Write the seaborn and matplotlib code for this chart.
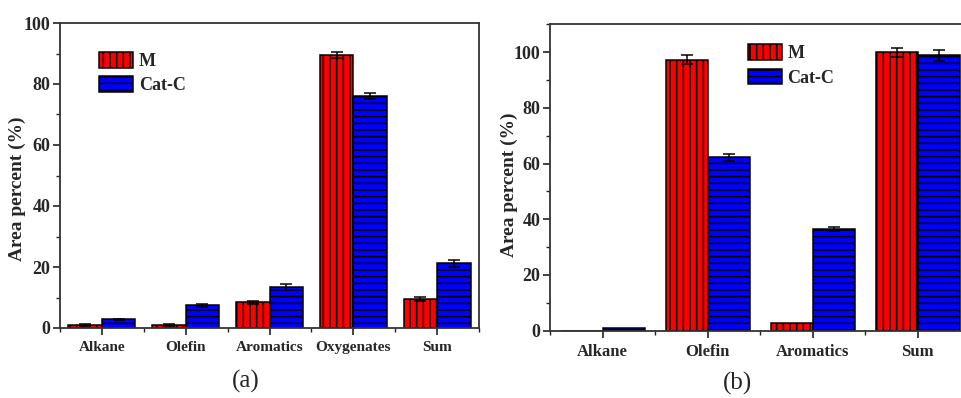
import numpy as np
import pandas as pd
import matplotlib
matplotlib.use("Agg")
import matplotlib.pyplot as plt
from matplotlib.patches import Patch
from matplotlib.ticker import MultipleLocator, FixedLocator
import seaborn as sns

# ---------------- data ----------------
series = ["M", "Cat-C"]

cats_a = ["Alkane", "Olefin", "Aromatics", "Oxygenates", "Sum"]
m_a = [1.0, 1.0, 8.4, 89.5, 9.4]
c_a = [2.9, 7.5, 13.4, 76.0, 21.2]
m_a_err = [0.2, 0.2, 0.6, 1.0, 0.7]
c_a_err = [0.2, 0.5, 0.9, 1.0, 1.2]

cats_b = ["Alkane", "Olefin", "Aromatics", "Sum"]
m_b = [0.0, 97.2, 2.8, 100.0]
c_b = [1.1, 62.2, 36.6, 98.8]
m_b_err = [0.0, 1.6, 0.0, 1.6]
c_b_err = [0.0, 1.2, 0.7, 2.0]

colors = {"M": "#FF0000", "Cat-C": "#0000FF"}
hatches = {"M": "|||", "Cat-C": "---"}

# render at a higher dpi (hatch spacing follows dpi) while keeping pixel sizes
DPI = 120
S = 100.0 / DPI
W, H = 961, 398


def px(v):
    """pixels -> points at the render dpi"""
    return v * 72.0 / DPI


sns.set_theme(style="ticks")
plt.rcParams["font.family"] = ["Liberation Serif", "DejaVu Serif"]
plt.rcParams["hatch.linewidth"] = px(1.6)
plt.rcParams["hatch.color"] = "black"

fig = plt.figure(figsize=(W / DPI, H / DPI), dpi=DPI)


def pos(l, t, r, b):
    return [l / W, (H - b) / H, (r - l) / W, (b - t) / H]


ax_a = fig.add_axes(pos(60, 23, 479, 328))
ax_b = fig.add_axes(pos(550, 24.3, 970, 330.7))


def draw(ax, cats, m, c, me, ce, ylim, xfs, legend_xy, ylab_xy):
    df = pd.DataFrame({
        "cat": cats * 2,
        "val": list(m) + list(c),
        "err": list(me) + list(ce),
        "series": [series[0]] * len(cats) + [series[1]] * len(cats),
    })
    sns.barplot(data=df, x="cat", y="val", hue="series", order=cats,
                hue_order=series, palette=colors, saturation=1,
                width=0.8, errorbar=None, legend=False, ax=ax,
                edgecolor="black", linewidth=px(1.5))
    n = len(cats)
    bars = list(ax.patches)[: 2 * n]
    for i, p in enumerate(bars):
        s = series[i // n]
        p.set_hatch(hatches[s])
        p.set_edgecolor("black")
        p.set_linewidth(px(1.5))
        p.set_zorder(2)
    for i, p in enumerate(bars):
        e = df["err"].iloc[i]
        if e > 0:
            xc = p.get_x() + p.get_width() / 2
            ax.errorbar(xc, p.get_height(), yerr=e, fmt="none", ecolor="black",
                        elinewidth=px(1.5), capsize=px(6), capthick=px(1.5),
                        zorder=3)
    ax.set_xlim(-0.5, n - 0.5)
    ax.set_ylim(*ylim)
    ax.set_xlabel("")
    ax.set_ylabel("Area percent (%)", fontsize=14 * S, fontweight="bold")
    ax.yaxis.set_label_coords(*ylab_xy)
    ax.yaxis.set_major_locator(MultipleLocator(20))
    ax.yaxis.set_minor_locator(MultipleLocator(10))
    ax.xaxis.set_minor_locator(FixedLocator(np.arange(-0.5, n, 1.0)))
    ax.tick_params(axis="both", which="major", direction="out", length=5 * S,
                   width=1.2 * S, color="#222222")
    ax.tick_params(axis="both", which="minor", direction="out", length=3 * S,
                   width=1.0 * S, color="#222222")
    ax.tick_params(axis="x", labelsize=xfs * S, pad=4.5 * S)
    ax.tick_params(axis="y", labelsize=13 * S, pad=2 * S)
    for lab in ax.get_xticklabels() + ax.get_yticklabels():
        lab.set_fontweight("bold")
    for sp in ax.spines.values():
        sp.set_visible(True)
        sp.set_linewidth(1.3 * S)
        sp.set_color("#333333")
    handles = [Patch(facecolor=colors[s], edgecolor="black", hatch=hatches[s],
                     linewidth=px(1.5), label=s) for s in series]
    ax.legend(handles=handles, loc="upper left", bbox_to_anchor=legend_xy,
              frameon=False, prop={"weight": "bold", "size": 13 * S},
              handlelength=1.9, handleheight=0.95, handletextpad=0.3,
              labelspacing=0.35, borderpad=0, borderaxespad=0)


draw(ax_a, cats_a, m_a, c_a, m_a_err, c_a_err, (0, 100), 11,
     (0.093, 0.905), (-0.08, 0.456))
draw(ax_b, cats_b, m_b, c_b, m_b_err, c_b_err, (0, 110), 12,
     (0.471, 0.935), (-0.076, 0.475))

fig.text(246 / W, 1 - 381 / H, "(a)", fontsize=18 * S, ha="center", va="center")
fig.text(738 / W, 1 - 383 / H, "(b)", fontsize=18 * S, ha="center", va="center")

fig.savefig("out.png", dpi=DPI)
